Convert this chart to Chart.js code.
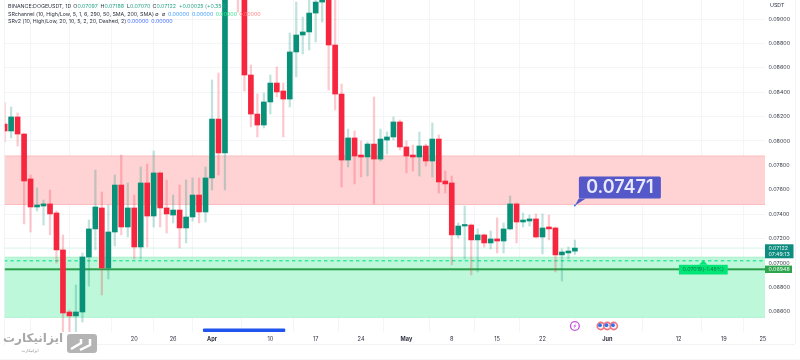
<!DOCTYPE html>
<html>
<head>
<meta charset="utf-8">
<style>
  html, body { margin: 0; padding: 0; background: #fff; }
  #wrap { width: 800px; height: 360px; }
</style>
<script src="https://cdn.jsdelivr.net/npm/chart.js@4"></script>
</head>
<body>
<div id="wrap"><canvas id="chart" width="800" height="360"></canvas></div>
<script>
// Daily candles, first one is 28 Feb. Day numbers count from 1 Apr.
const firstDay = -32;
const openPrices = [
  0.08139, 0.08082, 0.08197, 0.08057, 0.07689, 0.07459, 0.07467, 0.07484, 0.0741, 0.07107,
  0.06598, 0.06566, 0.06598, 0.07049, 0.07279, 0.07451, 0.06959, 0.07254, 0.07639, 0.07295,
  0.07451, 0.07131, 0.07656, 0.07385, 0.07738, 0.07451, 0.07393, 0.07434, 0.07287, 0.07377,
  0.07557, 0.07418, 0.07697, 0.0818, 0.07902, 0.0985, 0.0945, 0.0925, 0.08541, 0.08221,
  0.08131, 0.0832, 0.08475, 0.0841, 0.08344, 0.0873, 0.08869, 0.08894, 0.09049, 0.09139,
  0.09164, 0.08787, 0.08385, 0.07844, 0.08025, 0.07885, 0.07869, 0.07975, 0.07852, 0.08008,
  0.08033, 0.08156, 0.07951, 0.07885, 0.07869, 0.07959, 0.07836, 0.08016, 0.07672, 0.07656,
  0.0723, 0.07303, 0.07311, 0.07189, 0.0723, 0.07164, 0.07197, 0.0718, 0.07279, 0.07484,
  0.07336, 0.07344, 0.07361, 0.07213, 0.07295, 0.07287, 0.07066, 0.07082, 0.07097
];
const highPrices = [
  0.08312, 0.08279, 0.0823, 0.08065, 0.07721, 0.07615, 0.07516, 0.07598, 0.07426, 0.0723,
  0.06615, 0.0682, 0.07082, 0.07352, 0.07762, 0.07582, 0.07475, 0.07721, 0.07885, 0.07656,
  0.07557, 0.07787, 0.07811, 0.07918, 0.07746, 0.0768, 0.07557, 0.07639, 0.0768, 0.07697,
  0.07697, 0.07787, 0.085, 0.08557, 0.1035, 0.1045, 0.0975, 0.0945, 0.08623, 0.08385,
  0.08393, 0.08541, 0.08607, 0.08475, 0.08885, 0.09139, 0.09016, 0.0918, 0.092, 0.0925,
  0.092, 0.0918, 0.08467, 0.08098, 0.08082, 0.08, 0.07992, 0.08361, 0.08098, 0.08074,
  0.08197, 0.08172, 0.08, 0.07967, 0.08074, 0.07975, 0.08148, 0.08049, 0.07754, 0.07713,
  0.07328, 0.07467, 0.0732, 0.07279, 0.07238, 0.07262, 0.07369, 0.07328, 0.07549, 0.07492,
  0.0741, 0.07393, 0.07402, 0.07402, 0.07393, 0.07295, 0.07115, 0.07131, 0.07188
];
const lowPrices = [
  0.07992, 0.08025, 0.07959, 0.0732, 0.07254, 0.07426, 0.07311, 0.0723, 0.07, 0.0642,
  0.0642, 0.0642, 0.06516, 0.06811, 0.07107, 0.06738, 0.06869, 0.07139, 0.0723, 0.07213,
  0.07033, 0.07033, 0.07131, 0.07295, 0.07295, 0.07246, 0.07328, 0.07123, 0.07164, 0.07344,
  0.07328, 0.07336, 0.07598, 0.07721, 0.07598, 0.0935, 0.09057, 0.0841, 0.08115, 0.08033,
  0.08107, 0.08221, 0.08361, 0.08033, 0.08279, 0.08525, 0.08713, 0.08746, 0.08812, 0.08975,
  0.08418, 0.08254, 0.07623, 0.07787, 0.07648, 0.07705, 0.07713, 0.07484, 0.07836, 0.07893,
  0.08008, 0.07926, 0.07738, 0.07754, 0.07713, 0.07795, 0.07705, 0.07574, 0.07574, 0.06984,
  0.07205, 0.07033, 0.06902, 0.06926, 0.07131, 0.07115, 0.07082, 0.07082, 0.07271, 0.07164,
  0.07295, 0.07303, 0.07205, 0.07074, 0.07189, 0.06926, 0.06852, 0.07033, 0.0707
];
const closePrices = [
  0.08082, 0.08197, 0.08057, 0.07672, 0.07459, 0.07475, 0.07484, 0.07402, 0.07107, 0.0659,
  0.06566, 0.06598, 0.07049, 0.07279, 0.07459, 0.06959, 0.07254, 0.07639, 0.07295, 0.07451,
  0.07131, 0.07656, 0.07385, 0.07738, 0.07451, 0.07402, 0.07434, 0.07287, 0.07377, 0.07557,
  0.07418, 0.07697, 0.0818, 0.07902, 0.0985, 0.0945, 0.0925, 0.08541, 0.08221, 0.08131,
  0.0832, 0.08475, 0.08402, 0.08344, 0.0873, 0.08869, 0.08894, 0.09049, 0.09139, 0.09164,
  0.08787, 0.08385, 0.07844, 0.08025, 0.07877, 0.07869, 0.07975, 0.07852, 0.08016, 0.08033,
  0.08156, 0.07951, 0.07877, 0.07869, 0.07959, 0.07836, 0.08016, 0.07664, 0.07648, 0.0723,
  0.07303, 0.07311, 0.07189, 0.0723, 0.07164, 0.07197, 0.0718, 0.07279, 0.07484, 0.07336,
  0.07352, 0.07361, 0.07213, 0.07287, 0.07279, 0.07066, 0.0709, 0.07098, 0.07122
];

const priceTicks = [0.066, 0.068, 0.07, 0.072, 0.074, 0.076, 0.078, 0.08, 0.082, 0.084, 0.086, 0.088, 0.09];
const dayTicks = [-31, -25, -19, -12, -6, 0, 9, 16, 23, 30, 37, 44, 51, 61, 72, 79, 85];
const dayLabels = ["Mar", "7", "13", "20", "26", "Apr", "10", "17", "24", "May", "8", "15", "22", "Jun", "12", "19", "25"];
const monthLabels = ["Mar", "Apr", "May", "Jun"];

const redZone = [0.0748, 0.07877];
const greenZone = [0.06555, 0.07047];
const lastPrice = 0.07122;
const supportPrice = 0.06948;
const dashedPrice = 0.07019;
const calloutPrice = 0.07471;
const calloutDay = 56;
const rangeBarDays = [-1.4, 11.3];
const boltDay = 56;
const flagDays = [60, 61, 62];

const legendRows = [
  [["BINANCE:DOGEUSDT, 1D", "#2f3340", 8], ["O", "#2f3340", 73.3], ["0.07097", "#2aa58c", 77.5], ["H", "#2f3340", 100.5],
   ["0.07188", "#2aa58c", 104.5], ["L", "#2f3340", 127], ["0.07070", "#2aa58c", 130], ["C", "#2f3340", 152.5],
   ["0.07122", "#2aa58c", 156.5], ["+0.00025 (+0.35%)", "#2aa58c", 179]],
  [["SRchannel (10, High/Low, 5, 1, 6, 290, 50, SMA, 200, SMA)", "#2f3340", 8], ["∅", "#2f3340", 155], ["∅", "#2f3340", 161.7],
   ["0.00000", "#3d9bff", 168], ["0.00000", "#3d9bff", 192], ["0.00000", "#35e58f", 215.7], ["0.00000", "#ff7f7f", 239.3]],
  [["SRv2 (10, High/Low, 20, 10, 5, 2, 20, Dashed, 2)", "#2f3340", 8], ["0.00000", "#3d6bff", 127.3], ["0.00000", "#3d6bff", 151.3]]
];

const UP = "#089178";
const DOWN = "#f6263f";
const UP_WICK = "rgba(8,145,120,0.25)";
const DOWN_WICK = "rgba(246,38,63,0.25)";
const FONT = "Inter, 'Liberation Sans', sans-serif";

const bodies = openPrices.map((o, i) => ({ x: firstDay + i, y: [o, closePrices[i]] }));
const wicks = lowPrices.map((l, i) => ({ x: firstDay + i, y: [l, highPrices[i]] }));
const isUp = openPrices.map((o, i) => closePrices[i] >= o);

function roundBox(ctx, x, y, w, h, r, color) {
  ctx.fillStyle = color;
  ctx.beginPath();
  ctx.roundRect(x, y, w, h, r);
  ctx.fill();
}

// the axis labels must not push the plot area away from the canvas edges
function dropLabelPadding(scale) {
  scale.paddingTop = 0;
  scale.paddingBottom = 0;
  scale.paddingLeft = 0;
  scale.paddingRight = 0;
}

const zonesPlugin = {
  id: "zones",
  beforeDatasetsDraw(chart) {
    const { ctx, chartArea, scales } = chart;
    const y = scales.y;
    const left = chartArea.left, right = chartArea.right;

    function zone(prices, fill, edge) {
      const top = y.getPixelForValue(prices[1]);
      const bottom = y.getPixelForValue(prices[0]);
      ctx.fillStyle = fill;
      ctx.fillRect(left, top, right - left, bottom - top);
      ctx.fillStyle = edge;
      ctx.fillRect(left, top - 0.5, right - left, 1);
      ctx.fillRect(left, bottom - 0.5, right - left, 1);
    }
    zone(redZone, "#ffd3d4", "#fbbdbf");
    zone(greenZone, "#bdf8db", "#a9f1cb");

    // pale line at the last price
    ctx.fillStyle = "#d3f3e8";
    ctx.fillRect(left, y.getPixelForValue(lastPrice) - 0.5, right - left, 1);

    ctx.save();
    ctx.strokeStyle = "#37e8a0";
    ctx.lineWidth = 1.5;
    ctx.setLineDash([3.4, 3]);
    ctx.beginPath();
    ctx.moveTo(left, y.getPixelForValue(dashedPrice));
    ctx.lineTo(right, y.getPixelForValue(dashedPrice));
    ctx.stroke();
    ctx.restore();

    ctx.fillStyle = "#2c9f4b";
    ctx.fillRect(left, y.getPixelForValue(supportPrice) - 1, right - left, 2);
  },

  afterDraw(chart) {
    const { ctx, scales } = chart;
    const x = scales.x, y = scales.y;
    ctx.save();

    // pane frame
    ctx.fillStyle = "#eef0f4";
    ctx.fillRect(4, 0, 0.8, 344);
    ctx.fillRect(795, 0, 0.8, 344);
    ctx.fillRect(4, 344, 791, 0.8);
    ctx.fillStyle = "#f5f6f8";
    ctx.fillRect(0, 359, 800, 1);

    // legend rows
    ctx.textBaseline = "middle";
    ctx.textAlign = "left";
    ctx.font = "5.3px " + FONT;
    const rowY = [6.3, 14, 21.5];
    legendRows.forEach((row, r) => {
      row.forEach((seg) => {
        ctx.fillStyle = seg[1];
        ctx.fillText(seg[0], seg[2], rowY[r]);
      });
    });
    ctx.fillStyle = "#2f3340";
    ctx.fillText("USDT", 770, 5.5);

    // target label on the support line
    const supY = y.getPixelForValue(supportPrice);
    ctx.fillStyle = "#00e676";
    ctx.fillRect(679, supY - 4.5, 48.7, 9.7);
    ctx.beginPath();
    ctx.moveTo(703.3, supY - 9);
    ctx.lineTo(699, supY - 4.5);
    ctx.lineTo(707.6, supY - 4.5);
    ctx.fill();
    ctx.fillStyle = "#0a7a45";
    ctx.textAlign = "center";
    ctx.font = "5.3px " + FONT;
    ctx.fillText(dashedPrice.toFixed(5) + "(-1.45%)", 703.3, supY + 0.4);

    // price tags on the axis
    const lastY = y.getPixelForValue(lastPrice);
    ctx.fillStyle = "#0e8c80";
    ctx.fillRect(765, lastY - 3.8, 28.5, 14);
    ctx.fillStyle = "#e6f7f4";
    ctx.textAlign = "left";
    ctx.fillText(lastPrice.toFixed(5), 768.5, lastY);
    ctx.fillText("07:49:13", 768.5, lastY + 6.6);
    ctx.fillStyle = "#2fa44f";
    ctx.fillRect(765, supY - 3.7, 27, 7.4);
    ctx.fillStyle = "#e9f9ec";
    ctx.fillText(supportPrice.toFixed(5), 768.5, supY + 0.2);

    // callout with the tail on its anchor
    const ax = x.getPixelForValue(calloutDay);
    const ay = y.getPixelForValue(calloutPrice);
    ctx.fillStyle = "#5458c8";
    ctx.beginPath();
    ctx.moveTo(ax, ay);
    ctx.lineTo(ax + 4, ay - 7);
    ctx.lineTo(ax + 11, ay - 7);
    ctx.fill();
    roundBox(ctx, ax + 4, ay - 29, 82, 22, 1.5, "#5458c8");
    ctx.fillStyle = "#2d7bf0";
    ctx.beginPath();
    ctx.arc(ax, ay, 1, 0, Math.PI * 2);
    ctx.fill();
    ctx.fillStyle = "#e9e9fb";
    ctx.textAlign = "center";
    ctx.font = "600 18px " + FONT;
    ctx.fillText(calloutPrice.toFixed(5), ax + 45, ay - 17.5);

    // range bar along the bottom of the pane
    const barL = x.getPixelForValue(rangeBarDays[0]);
    const barR = x.getPixelForValue(rangeBarDays[1]);
    roundBox(ctx, barL, 328.4, barR - barL, 3.6, 1, "#1f55ee");

    // event icons
    const iconY = 326;
    ctx.strokeStyle = "#c45ade";
    ctx.lineWidth = 1.4;
    ctx.beginPath();
    ctx.arc(x.getPixelForValue(boltDay), iconY, 4.4, 0, Math.PI * 2);
    ctx.fillStyle = "#fff";
    ctx.fill();
    ctx.stroke();
    ctx.fillStyle = "#c45ade";
    ctx.beginPath();
    const bx = x.getPixelForValue(boltDay);
    ctx.moveTo(bx + 1, iconY - 3);
    ctx.lineTo(bx - 1.5, iconY + 0.5);
    ctx.lineTo(bx, iconY + 0.5);
    ctx.lineTo(bx - 1, iconY + 3);
    ctx.lineTo(bx + 1.5, iconY - 0.5);
    ctx.lineTo(bx, iconY - 0.5);
    ctx.fill();
    flagDays.forEach((d) => {
      const fx = x.getPixelForValue(d);
      ctx.fillStyle = "#f4727f";
      ctx.beginPath();
      ctx.arc(fx, iconY, 4.4, 0, Math.PI * 2);
      ctx.fill();
      ctx.fillStyle = "#f2f2f6";
      ctx.beginPath();
      ctx.arc(fx, iconY, 2.8, 0, Math.PI * 2);
      ctx.fill();
      ctx.fillStyle = "#2f72e8";
      ctx.beginPath();
      ctx.arc(fx - 0.8, iconY - 0.8, 1.9, 0, Math.PI * 2);
      ctx.fill();
    });

    // site watermark in the corner
    ctx.fillStyle = "#fff";
    ctx.fillRect(5, 333, 62, 25);
    roundBox(ctx, 67, 334, 30, 19, 3, "#b4b4b4");
    ctx.strokeStyle = "#fff";
    ctx.lineWidth = 2.5;
    ctx.beginPath();
    ctx.moveTo(71, 349);
    ctx.lineTo(81, 343);
    ctx.lineTo(81, 339);
    ctx.moveTo(80, 350);
    ctx.lineTo(90, 345);
    ctx.lineTo(90, 339);
    ctx.stroke();
    ctx.fillStyle = "#a8a8a8";
    ctx.textAlign = "center";
    ctx.font = "bold 12px 'DejaVu Sans'";
    ctx.fillText("ایزانیکارت", 33, 338.5);
    ctx.fillStyle = "#8a8a8a";
    ctx.font = "4px 'DejaVu Sans'";
    ctx.fillText("ایزانیکارت", 30, 351);

    ctx.restore();
  }
};

new Chart(document.getElementById("chart"), {
  type: "bar",
  data: {
    datasets: [
      {
        data: bodies,
        backgroundColor: isUp.map((u) => (u ? UP : DOWN)),
        barThickness: 5,
        minBarLength: 1.5,
      },
      {
        data: wicks,
        backgroundColor: isUp.map((u) => (u ? UP_WICK : DOWN_WICK)),
        barThickness: 1.6,
      },
    ],
  },
  options: {
    responsive: false,
    animation: false,
    grouped: false,
    layout: { padding: { left: 4, right: 0, top: 0, bottom: 0 } },
    plugins: { legend: { display: false }, tooltip: { enabled: false } },
    scales: {
      x: {
        type: "linear",
        offset: false,
        min: -32.1,
        max: 85.34,
        border: { display: false },
        grid: { color: "#f4f5f7", lineWidth: 1, tickLength: 0 },
        afterBuildTicks(scale) {
          scale.ticks = dayTicks.map((d) => ({ value: d }));
        },
        afterFit(scale) {
          scale.height = 28;
          dropLabelPadding(scale);
        },
        ticks: {
          autoSkip: false,
          maxRotation: 0,
          padding: 4,
          color: "#2f3340",
          font: (c) => ({
            family: FONT,
            size: 5.6,
            weight: monthLabels.includes(dayLabels[dayTicks.indexOf(c.tick && c.tick.value)]) ? "bold" : "normal",
          }),
          callback: (value) => dayLabels[dayTicks.indexOf(value)],
        },
      },
      y: {
        position: "right",
        min: 0.06434,
        max: 0.09156,
        border: { display: false },
        grid: { color: "#f4f5f7", lineWidth: 1, tickLength: 0 },
        afterBuildTicks(scale) {
          scale.ticks = priceTicks.map((p) => ({ value: p }));
        },
        afterFit(scale) {
          scale.width = 35;
          dropLabelPadding(scale);
        },
        ticks: {
          padding: 3.5,
          color: "#3a3e4a",
          font: { family: FONT, size: 5.4 },
          callback: (value) => value.toFixed(5),
        },
      },
    },
  },
  plugins: [zonesPlugin],
});
</script>
</body>
</html>
